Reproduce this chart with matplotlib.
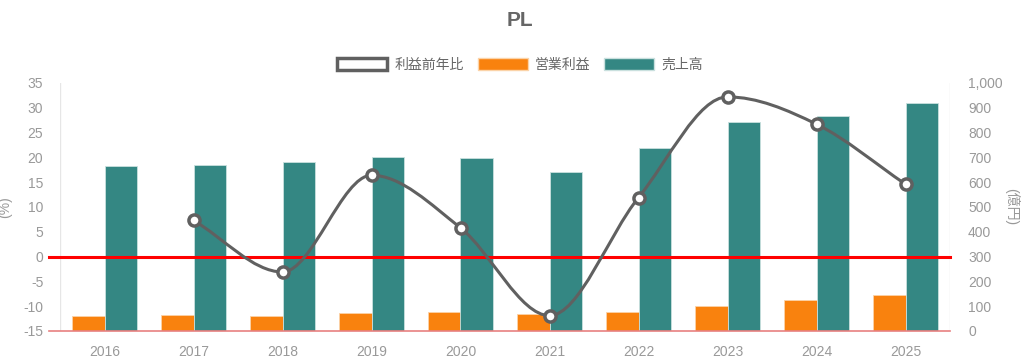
import numpy as np
import matplotlib
matplotlib.use("Agg")
import matplotlib.pyplot as plt
from matplotlib.path import Path
from matplotlib.patches import PathPatch, Patch

plt.rcParams['font.family'] = ['Liberation Sans', 'Noto Sans CJK JP', 'DejaVu Sans']
plt.rcParams['axes.unicode_minus'] = False

years = ['2016', '2017', '2018', '2019', '2020', '2021', '2022', '2023', '2024', '2025']
sales = [666, 670, 681, 703, 696, 640, 739, 844, 867, 918]          # 売上高 (億円)
op_profit = [60, 64, 62, 71, 77, 68, 75, 100, 126, 145]              # 営業利益 (億円)
profit_yoy = [None, 7.3, -3.1, 16.4, 5.8, -11.9, 11.9, 32.2, 26.7, 14.6]  # 利益前年比 (%)

TEAL = '#348783'
ORANGE = '#F9820E'
GREY_LINE = '#606060'
TXT = '#999999'

fig = plt.figure(figsize=(10.24, 3.62), dpi=100)
ax = fig.add_axes([60/1024, 1-331/362, 890/1024, 248/362])
ax2 = ax.twinx()

x = np.arange(len(years))
w = 0.36
ax2.bar(x - w/2, op_profit, width=w, color=ORANGE, edgecolor='#fbd3a8', linewidth=0.6, zorder=2)
ax2.bar(x + w/2, sales, width=w, color=TEAL, edgecolor='#c9e0de', linewidth=0.6, zorder=2)
ax2.set_ylim(0, 1000)
ax.set_ylim(-15, 35)
ax.set_xlim(-0.5, len(years) - 0.5)

# zero line
ax.plot([-0.62, len(years) - 0.5], [0, 0], color='#ff0000', lw=2.2, zorder=3, clip_on=False)

ax.set_zorder(ax2.get_zorder() + 1)
ax.patch.set_visible(False)

# monotone cubic curve (Fritsch-Carlson) through the points
pts = [(xi, yi) for xi, yi in zip(x, profit_yoy) if yi is not None]
px = np.array([p[0] for p in pts], float)
py = np.array([p[1] for p in pts], float)
n = len(px)
dk = np.diff(py) / np.diff(px)
mk = np.zeros(n)
mk[0] = dk[0]
mk[-1] = dk[-1]
for i in range(1, n - 1):
    if dk[i-1] == 0 or dk[i] == 0 or np.sign(dk[i-1]) != np.sign(dk[i]):
        mk[i] = 0.0
    else:
        mk[i] = (dk[i-1] + dk[i]) / 2
for i in range(n - 1):
    if abs(dk[i]) < 1e-12:
        mk[i] = mk[i+1] = 0.0
        continue
    a = mk[i] / dk[i]; b = mk[i+1] / dk[i]
    s2 = a*a + b*b
    if s2 > 9:
        tau = 3 / np.sqrt(s2)
        mk[i] = a * tau * dk[i]
        mk[i+1] = b * tau * dk[i]
verts = [(px[0], py[0])]
codes = [Path.MOVETO]
for i in range(n - 1):
    dx = (px[i+1] - px[i]) / 3
    verts += [(px[i] + dx, py[i] + dx * mk[i]),
              (px[i+1] - dx, py[i+1] - dx * mk[i+1]),
              (px[i+1], py[i+1])]
    codes += [Path.CURVE4] * 3
ax.add_patch(PathPatch(Path(verts, codes), facecolor='none', edgecolor=GREY_LINE, lw=2.2, zorder=4, clip_on=False))
ax.plot(px, py, linestyle='none', marker='o', ms=8, mfc='white', mec=GREY_LINE, mew=2.5, zorder=5)

ax.set_xticks(x)
ax.set_xticklabels(years)
ax.set_yticks(np.arange(-15, 36, 5))
ax2.set_yticks(np.arange(0, 1001, 100))
ax2.set_yticklabels([f'{v:,}' for v in range(0, 1001, 100)])

for a in (ax, ax2):
    a.tick_params(colors=TXT, labelsize=10, length=0)
    for sp in a.spines.values():
        sp.set_visible(False)
ax.tick_params(axis='y', pad=12)
ax2.tick_params(axis='y', pad=13)
ax.tick_params(axis='x', pad=10)

ax.axvline(-0.5, color='#e6e6e6', lw=1, zorder=1)
ax.axvline(len(years) - 0.5, color='#e6e6e6', lw=1, zorder=1)
ax.plot([-0.62, len(years) - 0.5], [-15, -15], color='#e88080', lw=1.2, zorder=3, clip_on=False)

ax.set_ylabel('(%)', color=TXT, fontsize=10)
ax.yaxis.set_label_coords(-48/890, 0.5)
ax2.set_ylabel('(億円)', color=TXT, fontsize=10, rotation=270, va='center')
ax2.yaxis.set_label_coords(1 + 62/890, 0.5)

fig.text(520/1024, 1-20/362, 'PL', ha='center', va='center', fontsize=15, fontweight='bold', color='#666666')

handles = [Patch(facecolor='white', edgecolor=GREY_LINE, linewidth=2.5),
           Patch(facecolor=ORANGE, edgecolor='#fbd3a8'),
           Patch(facecolor=TEAL, edgecolor='#c9e0de')]
fig.legend(handles, ['利益前年比', '営業利益', '売上高'], loc='center', bbox_to_anchor=(520/1024, 1-65/362),
           ncol=3, frameon=False, fontsize=10, labelcolor='#666666', handlelength=3.6, handleheight=1.0,
           columnspacing=1.0, handletextpad=0.5)

fig.savefig('out.png', dpi=100, facecolor='white')
